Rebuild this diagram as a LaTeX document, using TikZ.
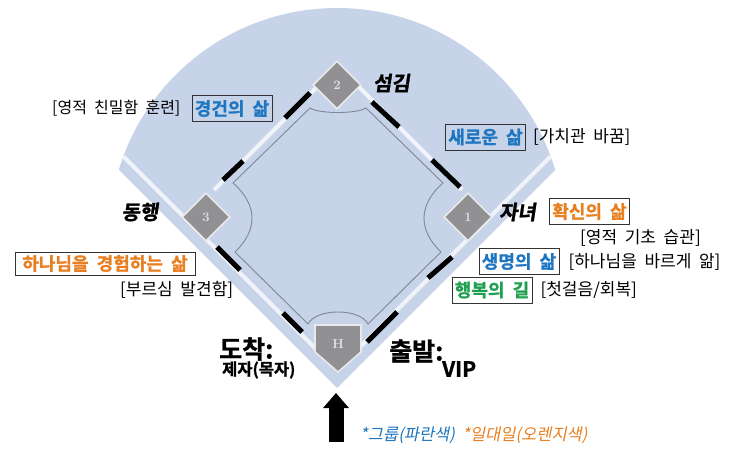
\documentclass[tikz,border=0pt]{standalone}
\usepackage{fontspec}
\newfontfamily\kr[WordSpace=2]{Noto Sans CJK KR}
\newfontfamily\krheavy[WordSpace=2,FakeBold=1.2]{Noto Sans CJK KR Bold}
\newfontfamily\krhead[FakeSlant=0.15,FakeBold=1.5]{Noto Sans CJK KR Bold}
\newfontfamily\krnote[FakeSlant=0.2,WordSpace=1.5]{Noto Sans CJK KR}
\usetikzlibrary{arrows.meta,positioning,shapes.geometric}
\definecolor{fieldblue}{RGB}{199,211,233}
\definecolor{lifeblue}{RGB}{30,118,192}
\definecolor{lifeorange}{RGB}{232,126,32}
\definecolor{lifegreen}{RGB}{30,160,80}
\definecolor{linegray}{RGB}{125,135,150}
\definecolor{basegray}{RGB}{145,145,148}

\begin{document}
\begin{tikzpicture}[x=1pt, y=-1pt, >=Latex,
stage/.style={draw=black!80, line width=0.8pt, inner sep=1pt, minimum width=80pt, minimum height=26pt, font=\krheavy\fontsize{18}{20}\selectfont},
note/.style={inner sep=0pt, font=\kr\fontsize{17}{19}\selectfont},
role/.style={inner sep=0pt, font=\krhead\fontsize{20}{22}\selectfont},
goal/.style={inner sep=0pt, font=\krheavy\fontsize{25}{27}\selectfont},
goalsub/.style={inner sep=0pt, font=\krheavy\fontsize{16.5}{18}\selectfont},
legend/.style={inner sep=0pt, font=\krnote\fontsize{16.5}{18}\selectfont},
base/.style={diamond, aspect=1, minimum width=48pt, minimum height=48pt, inner sep=0pt, fill=basegray, draw=white!80!basegray, line width=1.6pt, text=white!75!basegray, font=\bfseries\fontsize{13}{14}\selectfont},
lane/.style={white, opacity=0.75, line width=4pt},
chalk/.style={black, line width=5pt},
infield/.style={draw=linegray, line width=0.9pt},
bigarrow/.style={line width=15pt, -{Triangle[width=25pt,length=15pt]}}]
\useasboundingbox (0,0) rectangle (737,476);
% field
\begin{scope}
\clip (337,388) -- (-100,-49) -- (774,-49) -- cycle;
\fill[fieldblue] (337,236) circle[radius=228];
\end{scope}
% foul lines and base paths
\draw[lane] (123.5,156.5) -- (318,351);
\draw[lane] (550.5,156.5) -- (356,351);
\draw[lane] (214,190) -- (318,86);
\draw[lane] (356,84) -- (462,190);
% infield line
\draw[infield] (310,108) -- (233,183) .. controls (258,205) and (258,230) .. (235,252) -- (308,324) .. controls (316,308) and (360,308) .. (368,324) -- (441,252) .. controls (418,230) and (418,205) .. (443,183) -- (366,108) .. controls (357,114) and (319,114) .. (310,108) -- cycle;
\draw[chalk] (285,118) -- (310,93);
\draw[chalk] (223,180) -- (243,161);
\draw[chalk] (372,102) -- (399,127);
\draw[chalk] (432,160) -- (460,187);
\draw[chalk] (217,247) -- (240,270);
\draw[chalk] (283,313) -- (302,332);
\draw[chalk] (367,342) -- (397,312);
\draw[chalk] (428,278) -- (452,257);
% bases
\node[base] (base2) at (337,85) {2};
\node[base] (base3) at (206,217) {3};
\node[base] (base1) at (468,217) {1};
\filldraw[fill=basegray, draw=white!80!basegray, line width=1.6pt] (315,325) -- (361,325) -- (361,352) -- (338,372) -- (315,352) -- cycle;
\node[text=white!75!basegray, font=\bfseries\fontsize{13}{14}\selectfont] (home) at (338,344) {H};
% labels
\node[stage, text=lifeblue] (piety) at (232,108.5) {경건의 삶};
\node[note, left=11pt of piety, font=\kr\fontsize{16}{18}\selectfont] (piety note) {[영적 친밀함 훈련]};
\node[stage, text=lifeblue] (newlife) at (485.5,137) {새로운 삶};
\node[note, right=7pt of newlife] (newlife note) {[가치관 바꿈]};
\node[role, anchor=west] (serve) at (373,83) {섬김};
\node[role] (walk) at (140,212) {동행};
\node[stage, text=lifeorange, minimum width=180pt, minimum height=23pt] (experience) at (105,263.5) {하나님을 경험하는 삶};
\node[note, anchor=west] (experience note) at (120,290) {[부르심 발견함]};
\node[role, anchor=west] (child) at (499,212) {자녀};
\node[stage, text=lifeorange] (assurance) at (589.5,211.5) {확신의 삶};
\node[note, anchor=west] (assurance note) at (580,238) {[영적 기초 습관]};
\node[stage, text=lifeblue] (life) at (519,261.5) {생명의 삶};
\node[note, right=9pt of life] (life note) {[하나님을 바르게 앎]};
\node[stage, text=lifegreen] (happy) at (492,290) {행복의 길};
\node[note, right=8pt of happy] (happy note) {[첫걸음/회복]};
\node[goal, anchor=west] (arrive) at (219,349) {도착:};
\node[goalsub, anchor=west] (disciple) at (222,370) {제자(목자)};
\node[goal, anchor=west] (depart) at (389,351) {출발:};
\node[goalsub, anchor=west, font=\krheavy\fontsize{21}{22}\selectfont] (vip) at (442,369) {VIP};
\coordinate (arrow foot) at (336,442);
\coordinate (arrow tip) at (336,393);
\draw[bigarrow] (arrow foot) -- (arrow tip);
\node[legend, text=lifeblue, anchor=west] (group) at (360,435) {*그룹(파란색)};
\node[legend, text=lifeorange, right=7pt of group] (onetoone) {*일대일(오렌지색)};
\end{tikzpicture}
\end{document}
